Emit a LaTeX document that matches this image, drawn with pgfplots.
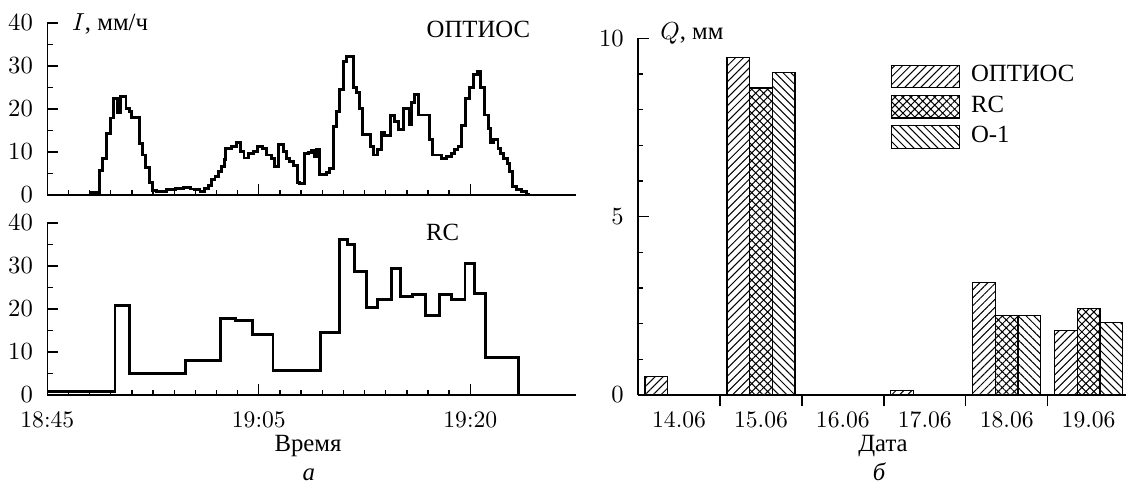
\documentclass[border=0pt]{standalone}
\usepackage{fontspec}
\usepackage{pgfplots}
\pgfplotsset{compat=1.18}
\usetikzlibrary{patterns,patterns.meta}
\newfontfamily\cyr{Liberation Serif}
\newcommand{\lbl}{\cyr\fontsize{11}{13}\selectfont}
\pgfplotsset{
  leftstyle/.style={
    scale only axis, anchor=south west,
    width=235pt, height=76.5pt,
    xmin=0, xmax=25, ymin=0, ymax=40,
    axis x line*=bottom, axis y line*=left,
    axis line style={-, line width=0.7pt},
    every tick/.style={black, line width=0.6pt},
    tick align=inside,
    major tick length=4.8pt, minor tick length=2.4pt,
    xtick={0,10,20}, minor x tick num=9,
    ytick={0,10,20,30,40}, minor y tick num=1,
    yticklabel style={xshift=-2.9pt},
    xticklabel style={yshift=-4pt},
    tick label style={font=\fontsize{10.5}{12}\selectfont},
    clip=false,
  },
}
\begin{document}
\begin{tikzpicture}
\useasboundingbox (0,0) rectangle (500.44pt,214.67pt);

% ---------- top left: OPTIOS ----------
\begin{axis}[leftstyle, at={(21.02pt,128pt)}, xticklabels={}]
\addplot[const plot, line width=1.3pt, black] coordinates {
(2.02,0)(2.02,0.5)(2.46,5.8)(2.62,8.4)(2.81,14.4)(3.00,17.9)(3.12,22.5)(3.31,19.2)(3.47,22.9)(3.72,20.2)(3.88,19.4)(4.00,18.1)(4.35,12.0)(4.51,9.3)(4.66,6.5)(4.82,3.0)(4.98,1.0)(5.17,0.9)(5.64,1.2)(6.04,1.6)(6.43,1.8)(6.78,1.4)(6.98,1.2)(7.22,0.9)(7.45,1.6)(7.61,2.3)(7.77,3.5)(7.93,4.3)(8.08,5.4)(8.24,6.6)(8.36,8.2)(8.43,10.9)(8.71,11.3)(8.95,12.3)(9.15,10.1)(9.30,8.6)(9.50,9.7)(9.74,10.1)(9.94,11.3)(10.16,10.9)(10.37,9.3)(10.60,8.5)(10.76,6.6)(10.95,11.7)(11.15,10.1)(11.31,8.5)(11.47,7.8)(11.63,6.8)(11.81,2.9)(11.94,2.6)(12.18,9.6)(12.33,9.9)(12.50,10.3)(12.62,8.9)(12.73,10.5)(12.89,4.7)(13.20,5.2)(13.36,6.2)(13.52,15.9)(13.68,19.4)(13.83,24.5)(13.99,31.1)(14.15,32.1)(14.46,24.9)(14.62,23.8)(14.78,20.2)(14.91,14.1)(15.28,11.3)(15.41,9.3)(15.60,10.5)(15.80,14.5)(15.96,13.8)(16.23,18.4)(16.40,17.1)(16.59,15.2)(16.82,20.2)(17.11,16.3)(17.22,21.4)(17.38,23.3)(17.53,18.6)(18.05,13.0)(18.21,9.3)(18.64,8.5)(18.88,8.9)(19.11,9.6)(19.27,10.5)(19.42,11.3)(19.58,16.1)(19.77,22.5)(19.98,24.9)(20.17,28.0)(20.32,28.7)(20.48,24.9)(20.69,18.6)(20.84,15.5)(20.95,12.1)(21.11,13.0)(21.31,10.9)(21.44,9.7)(21.58,8.5)(21.74,7.4)(21.87,5.4)(21.98,1.9)(22.18,1.3)(22.42,0.8)(22.66,0.2)(22.73,0)
};
\end{axis}

% ---------- bottom left: RC ----------
\begin{axis}[leftstyle, at={(21.02pt,39.1pt)}, xticklabels={18:45,19:05,19:20}]
\addplot[const plot, line width=1.3pt, black] coordinates {
(0,0.8)(3.20,20.9)(3.88,5.0)(6.54,8.1)(8.18,17.7)(8.90,17.4)(9.70,14.0)(10.67,5.8)(12.90,14.6)(13.81,36.2)(14.21,34.9)(14.51,28.7)(15.08,20.4)(15.61,22.3)(16.26,29.5)(16.68,22.9)(17.28,23.3)(17.86,18.4)(18.54,23.4)(19.13,22.1)(19.75,30.6)(20.18,23.7)(20.73,8.7)(22.27,0)
};
\end{axis}

% ---------- right: Q bars ----------
\begin{axis}[
  scale only axis, anchor=south west, at={(283.6pt,39.1pt)},
  width=216.9pt, height=158.5pt,
  xmin=-0.5, xmax=5.458, ymin=0, ymax=10,
  axis x line*=bottom, axis y line*=left,
  axis line style={-, line width=0.7pt},
  every tick/.style={black, line width=0.6pt},
  tick align=inside,
  major tick length=5pt, minor tick length=2.3pt,
  ytick={0,5,10}, minor y tick num=4,
  xtick={0.5,1.5,2.5,3.5,4.5}, xticklabels={},
  extra x ticks={0,1,2,3,4,5},
  extra x tick labels={14.06,15.06,16.06,17.06,18.06,19.06},
  extra x tick style={major tick length=0pt},
  yticklabel style={xshift=-2.9pt},
  xticklabel style={yshift=-4pt},
  tick label style={font=\fontsize{10.5}{12}\selectfont},
  ybar, bar width=0.277,
  legend image code/.code={\draw[#1,/tikz/.cd,line width=0.5pt] (0pt,-5pt) rectangle (30pt,5pt);},
  legend style={at={(0.518,0.928)}, anchor=north west, draw=none, fill=none,
    inner sep=0pt, row sep=3pt, font=\lbl,
    nodes={inner sep=0pt, text height=7.5pt, text depth=2.5pt},
    /tikz/every odd column/.append style={column sep=4.9pt}},
  legend cell align=left,
  clip=false,
]
\addplot[draw=black, line width=0.5pt, bar shift=-0.277,
  pattern={Lines[angle=45,distance=2.5pt,line width=0.45pt]}]
  coordinates {(0,0.52)(1,9.46)(3,0.12)(4,3.15)(5,1.80)};
\addplot[draw=black, line width=0.5pt, bar shift=0,
  pattern={Hatch[angle=45,distance=2.5pt,line width=0.45pt]}]
  coordinates {(1,8.61)(4,2.23)(5,2.43)};
\addplot[draw=black, line width=0.5pt, bar shift=0.277,
  pattern={Lines[angle=-45,distance=2.5pt,line width=0.45pt]}]
  coordinates {(1,9.05)(4,2.23)(5,2.03)};
\legend{ОПТИОС,RC,О-1}
\end{axis}

% ---------- labels ----------
\node[anchor=base west, inner sep=0pt, font=\lbl] at (31.9pt,201.3pt) {$I$, мм/ч};
\node[anchor=base, inner sep=0pt, font=\lbl] at (212.6pt,198.1pt) {ОПТИОС};
\node[anchor=base, inner sep=0pt, font=\lbl] at (196.7pt,108pt) {RC};
\node[anchor=base, inner sep=0pt, font=\lbl] at (136.9pt,13.9pt) {Время};
\node[anchor=base, inner sep=0pt, font=\lbl\itshape] at (137.3pt,0.9pt) {а};
\node[anchor=base west, inner sep=0pt, font=\lbl] at (293.3pt,196.9pt) {$Q$, мм};
\node[anchor=base, inner sep=0pt, font=\lbl] at (392.4pt,13.9pt) {Дата};
\node[anchor=base, inner sep=0pt, font=\lbl\itshape] at (390.7pt,0.9pt) {б};
\end{tikzpicture}
\end{document}
